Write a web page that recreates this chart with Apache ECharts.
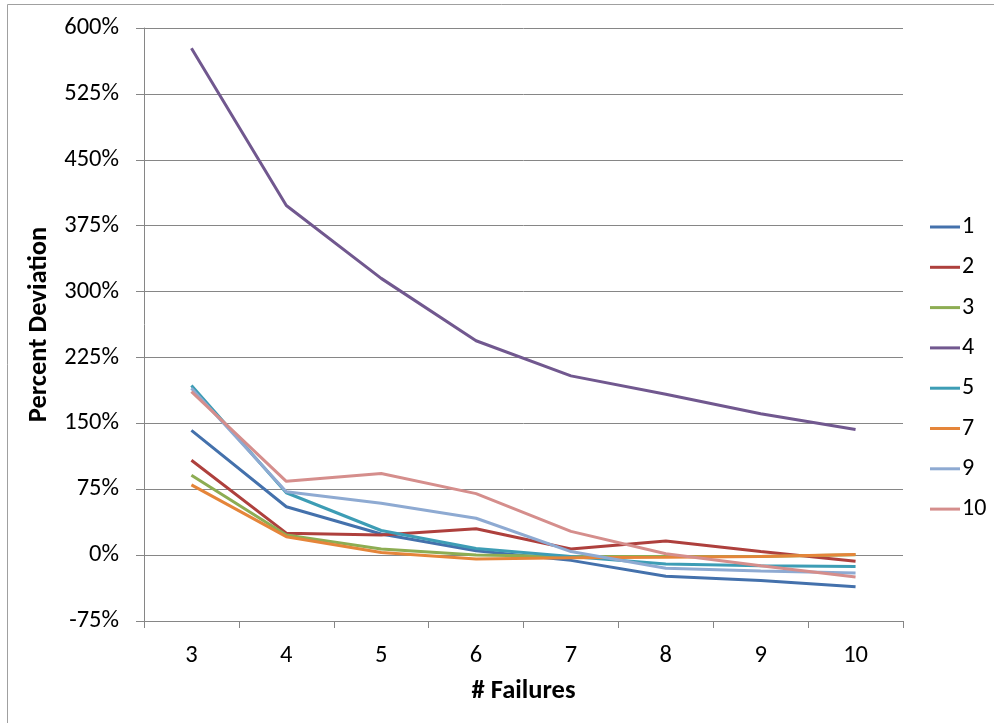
<!DOCTYPE html>
<html>
<head>
<meta charset="utf-8">
<title>Percent Deviation vs # Failures</title>
<script src="https://cdn.jsdelivr.net/npm/echarts@6/dist/echarts.min.js"></script>
<style>
  html, body { margin: 0; padding: 0; background: #ffffff; }
  #chart { width: 994px; height: 723px; }
</style>
</head>
<body>
<div id="chart"></div>
<script>
// Number of failures on the category axis
const failures = ['3', '4', '5', '6', '7', '8', '9', '10'];

// Percent deviation per series (in %)
const s1  = [142, 55, 24, 5, -6, -24, -29, -36];
const s2  = [108, 25, 23, 30, 7, 16, 4, -7];
const s3  = [91, 23, 7, 0, -1.5, -1.5, -1.5, 0.5];
const s4  = [577, 398, 315, 244, 204, 183, 161, 143];
const s5  = [193, 71, 28, 7.5, -1.5, -10, -12, -13];
const s7  = [80, 21, 3, -4.5, -3, -2.5, -1.5, 0.8];
const s9  = [190, 72, 59, 42, 4, -15, -18, -20.5];
const s10 = [186, 84, 93, 70, 27, 1.5, -12, -25];

const seriesNames = ['1', '2', '3', '4', '5', '7', '9', '10'];
const seriesData  = [s1, s2, s3, s4, s5, s7, s9, s10];
const seriesColors = ['#4471AC', '#AE403D', '#8DAD53', '#71588F',
                      '#3D9DB5', '#E5853A', '#8EAAD2', '#D58E8C'];

// Value axis range and step
const yMin = -75, yMax = 600, yStep = 75;

const FONT = 'Carlito, "Liberation Sans", Arial, sans-serif';
const FS = 24.5;      // tick labels
const FS_LEG = 24;    // legend
const FS_TITLE = 26.5; // axis titles
const gridGray = '#868686';

const chart = echarts.init(document.getElementById('chart'), null, { renderer: 'canvas' });

chart.setOption({
  animation: false,
  backgroundColor: '#ffffff',
  textStyle: { fontFamily: FONT },
  graphic: [{
    type: 'rect',
    shape: { x: 7.5, y: 4.5, width: 1100, height: 1100 },
    style: { fill: 'none', stroke: '#a0a0a0', lineWidth: 1 },
    silent: true
  }],
  grid: { left: 144, right: 91, top: 28, bottom: 102, containLabel: false },
  legend: {
    orient: 'vertical',
    left: 925,
    top: 210,
    itemWidth: 30,
    itemHeight: 3,
    itemGap: 16.3,
    icon: 'rect',
    textStyle: { fontFamily: FONT, fontSize: FS_LEG, color: '#000', lineHeight: 24, padding: [0, 0, 0, -3] },
    data: seriesNames
  },
  xAxis: {
    type: 'category',
    data: failures,
    boundaryGap: true,
    name: '# Failures',
    nameLocation: 'middle',
    nameGap: 57,
    nameTextStyle: { fontFamily: FONT, fontSize: FS_TITLE, fontWeight: 'bold', color: '#000' },
    axisLine: { onZero: false, lineStyle: { color: gridGray, width: 1 } },
    axisTick: { show: true, interval: 0, alignWithLabel: false, length: 7, lineStyle: { color: gridGray } },
    axisLabel: { fontFamily: FONT, fontSize: FS, color: '#000', margin: 22 },
    splitLine: { show: false }
  },
  yAxis: {
    type: 'value',
    min: yMin,
    max: yMax,
    interval: yStep,
    name: 'Percent Deviation',
    nameLocation: 'middle',
    nameGap: 91,
    nameRotate: 90,
    nameTextStyle: { fontFamily: FONT, fontSize: FS_TITLE, fontWeight: 'bold', color: '#000' },
    axisLine: { show: true, lineStyle: { color: gridGray, width: 1 } },
    axisTick: { show: true, length: 8, lineStyle: { color: gridGray } },
    axisLabel: { fontFamily: FONT, fontSize: FS, color: '#000', margin: 25, formatter: '{value}%' },
    splitLine: { show: true, lineStyle: { color: gridGray, width: 1 } }
  },
  series: seriesNames.map((name, i) => ({
    name: name,
    type: 'line',
    data: seriesData[i],
    showSymbol: false,
    symbol: 'none',
    smooth: false,
    color: seriesColors[i],
    lineStyle: { width: 3, color: seriesColors[i] },
    itemStyle: { color: seriesColors[i] }
  }))
});
</script>
</body>
</html>
